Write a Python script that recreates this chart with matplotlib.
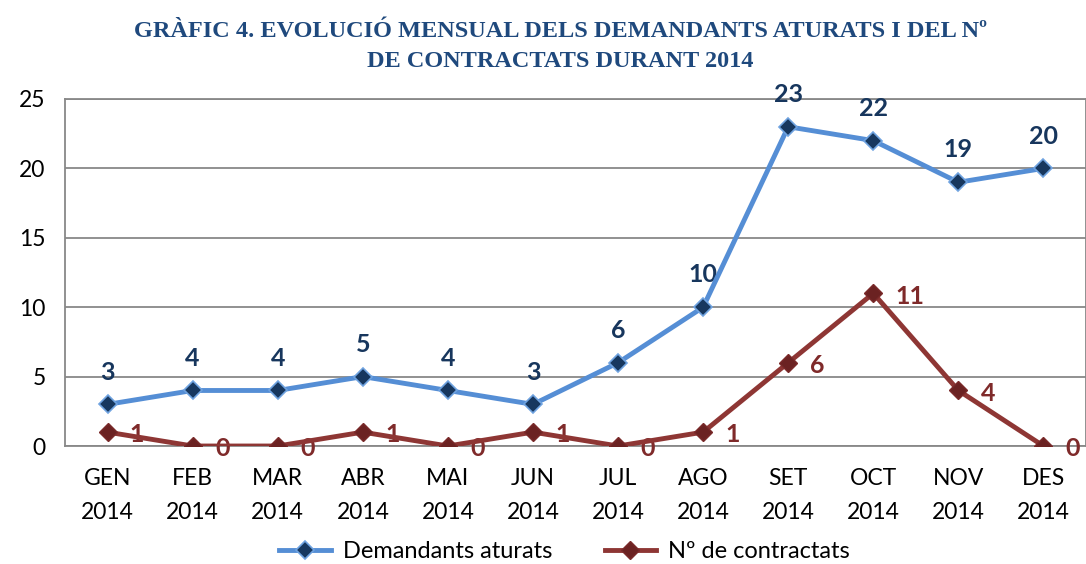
import matplotlib
matplotlib.use("Agg")
import matplotlib.pyplot as plt

months = ["GEN\n2014", "FEB\n2014", "MAR\n2014", "ABR\n2014", "MAI\n2014", "JUN\n2014",
          "JUL\n2014", "AGO\n2014", "SET\n2014", "OCT\n2014", "NOV\n2014", "DES\n2014"]
demandants = [3, 4, 4, 5, 4, 3, 6, 10, 23, 22, 19, 20]
contractats = [1, 0, 0, 1, 0, 1, 0, 1, 6, 11, 4, 0]

title = "GRÀFIC 4. EVOLUCIÓ MENSUAL DELS DEMANDANTS ATURATS I DEL Nº\nDE CONTRACTATS DURANT 2014"

fam = ["Lato", "DejaVu Sans"]
fig = plt.figure(figsize=(10.86, 5.64), dpi=100)
ax = fig.add_axes([0.0599, 0.2092, 0.9401, 0.6153])

x = list(range(len(months)))
blue_line = "#558ED5"
red_line = "#8E3634"
ax.plot(x, demandants, color=blue_line, lw=3.5, marker="D", ms=9.5,
        mfc="#17375E", mec="#6FA3E0", mew=1.2, label="Demandants aturats", zorder=4)
ax.plot(x, contractats, color=red_line, lw=3.5, marker="D", ms=9.5,
        mfc="#6B2222", mec="#7A2A2A", mew=1.0, label="Nº de contractats", zorder=4)

for xi, v in zip(x, demandants):
    ax.annotate(str(v), (xi, v), xytext=(0, 15), textcoords="offset points",
                ha="center", va="bottom", fontsize=18, fontweight="bold",
                color="#17365D", family=fam)
for xi, v in zip(x, contractats):
    ax.annotate(str(v), (xi, v), xytext=(16, -2), textcoords="offset points",
                ha="left", va="center", fontsize=18, fontweight="bold",
                color="#7F2A2A", family=fam)

ax.set_xlim(-0.5, 11.5)
ax.set_ylim(0, 25)
ax.set_yticks([0, 5, 10, 15, 20, 25])
ax.set_xticks(x)
ax.set_xticklabels(months, family=fam, fontsize=16.5, linespacing=1.75)
for lab in ax.get_yticklabels():
    lab.set_family(fam)
    lab.set_fontsize(16.5)
ax.tick_params(axis="both", length=0)
ax.tick_params(axis="x", pad=16)
ax.tick_params(axis="y", pad=14)
ax.grid(axis="y", color="#888888", lw=1.3)
ax.set_axisbelow(True)
for s in ax.spines.values():
    s.set_color("#888888")
    s.set_linewidth(1.3)

fig.text(0.516, 0.963, title, ha="center", va="top", family=["Liberation Serif", "DejaVu Serif"],
         fontweight="bold", fontsize=17.5, color="#1F497D", linespacing=1.6)

leg = fig.legend(loc="lower center", bbox_to_anchor=(0.52, -0.035), ncol=2, frameon=False,
                 prop={"family": fam, "size": 17}, handlelength=2.2, columnspacing=2.2,
                 handletextpad=0.5, markerscale=1.0)

fig.savefig("out.png", dpi=100)
